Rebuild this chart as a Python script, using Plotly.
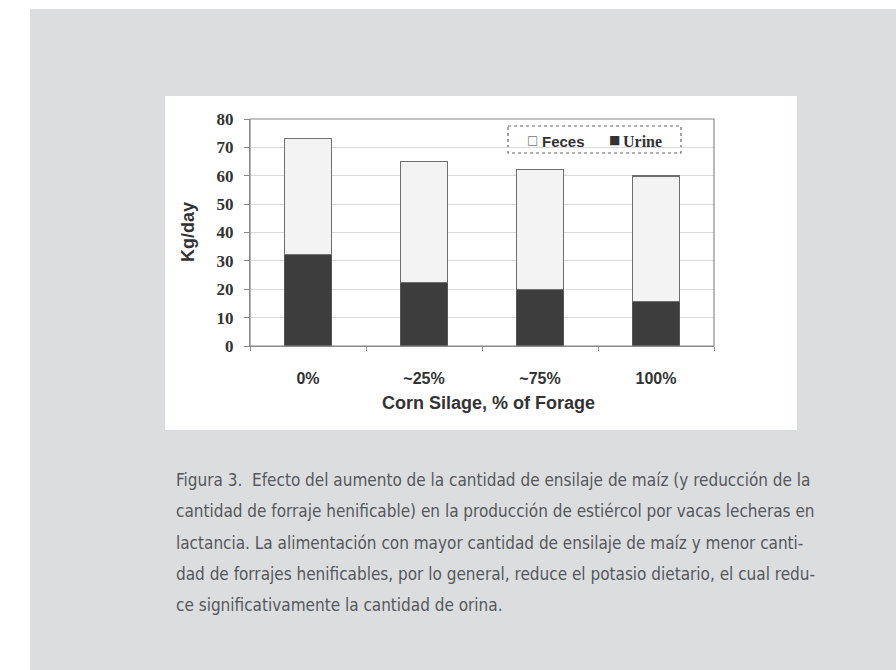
import plotly.graph_objects as go

# Manure output by corn-silage share of forage (kg/day)
categories = ["0%", "~25%", "~75%", "100%"]
urine = [32.2, 22.3, 19.8, 15.7]
feces = [40.9, 42.8, 42.5, 44.2]
y_ticks = [0, 10, 20, 30, 40, 50, 60, 70, 80]

caption_lines = [
    "Figura 3.  Efecto del aumento de la cantidad de ensilaje de maíz (y reducción de la",
    "cantidad de forraje henificable) en la producción de estiércol por vacas lecheras en",
    "lactancia. La alimentación con mayor cantidad de ensilaje de maíz y menor canti-",
    "dad de forrajes henificables, por lo general, reduce el potasio dietario, el cual redu-",
    "ce significativamente la cantidad de orina.",
]

W, H = 896, 670
PL, PR, PT, PB = 250, 714, 119, 346  # plot area in pixels


def px(x):
    return (x - PL) / (PR - PL)


def py(y):
    return (PB - y) / (PB - PT)


AXIS_FONT = "Arial, Liberation Sans, sans-serif"
SERIF_FONT = "Liberation Serif, Times New Roman, serif"
CAPTION_FONT = "Liberation Sans Narrow, Arial Narrow, DejaVu Sans Condensed, sans-serif"
TEXT = "#333333"

fig = go.Figure()
fig.add_trace(go.Bar(
    name="Urine", x=categories, y=urine, showlegend=False,
    marker=dict(color="#3d3d3d", line=dict(color="#555555", width=1)),
))
fig.add_trace(go.Bar(
    name="Feces", x=categories, y=feces, showlegend=False,
    marker=dict(color="#f3f3f3", line=dict(color="#6f6f6f", width=1.2)),
))

shapes = [
    # grey page panel
    dict(type="rect", xref="paper", yref="paper", x0=px(30), x1=px(W + 5),
         y0=py(9), y1=py(H + 5), fillcolor="#dcdddf", line=dict(width=0), layer="below"),
    # white chart card
    dict(type="rect", xref="paper", yref="paper", x0=px(165), x1=px(797),
         y0=py(96), y1=py(430), fillcolor="#ffffff", line=dict(width=0), layer="below"),
    # plot frame
    dict(type="rect", xref="paper", yref="paper", x0=0, x1=1, y0=0, y1=1,
         line=dict(color="#8a8a8a", width=1.2), fillcolor="rgba(0,0,0,0)", layer="above"),
    # legend frame (dotted)
    dict(type="rect", xref="paper", yref="paper", x0=px(508), x1=px(681),
         y0=py(126), y1=py(153), line=dict(color="#666666", width=1.2, dash="dot"),
         fillcolor="#ffffff", layer="below"),
]


def label(text, x, y, family, size, **kw):
    return dict(text=text, xref="paper", yref="paper", x=px(x), y=py(y),
                showarrow=False, xanchor=kw.pop("xanchor", "left"),
                yanchor="middle", font=dict(family=family, size=size,
                                            color=kw.pop("color", TEXT),
                                            weight=kw.pop("weight", "bold")), **kw)


annotations = [
    label("Kg/day", 188, 232, AXIS_FONT, 18, xanchor="center", textangle=-90),
    label("Corn Silage, % of Forage", 488, 403, AXIS_FONT, 18, xanchor="center"),
    # legend entries
    label("□", 525, 140, "DejaVu Sans, sans-serif", 12, color="#777777", weight="normal"),
    label("Feces", 540, 141, AXIS_FONT, 15),
    label("■", 607, 140, "DejaVu Sans, sans-serif", 12, color="#333333", weight="normal"),
    label("Urine", 621, 141, SERIF_FONT, 16),
]
for i, line in enumerate(caption_lines):
    annotations.append(label(line, 174, 480 + i * 31.3, CAPTION_FONT, 17,
                             color="#55585b", weight="normal"))

fig.update_layout(
    width=W, height=H,
    margin=dict(l=PL, r=W - PR, t=PT, b=H - PB, pad=0),
    paper_bgcolor="#ffffff",
    plot_bgcolor="rgba(0,0,0,0)",
    barmode="stack",
    bargap=0.595,
    showlegend=False,
    shapes=shapes,
    annotations=annotations,
    xaxis=dict(
        type="category", showgrid=False, zeroline=False,
        showline=True, linecolor="#8a8a8a", linewidth=1.2,
        ticks="outside", tickson="boundaries", ticklen=4, tickcolor="#8a8a8a",
        ticklabelstandoff=18,
        tickfont=dict(family=AXIS_FONT, size=16, color=TEXT, weight="bold"),
        fixedrange=True,
    ),
    yaxis=dict(
        range=[0, 80], tickvals=y_ticks, showgrid=True, gridcolor="#d9d9d9", gridwidth=1,
        zeroline=False, showline=True, linecolor="#8a8a8a", linewidth=1.2,
        ticks="outside", ticklen=5, tickcolor="#8a8a8a",
        ticklabelstandoff=7,
        tickfont=dict(family=SERIF_FONT, size=17, color=TEXT, weight="bold"),
        fixedrange=True,
    ),
)

fig.write_html("out.html")
